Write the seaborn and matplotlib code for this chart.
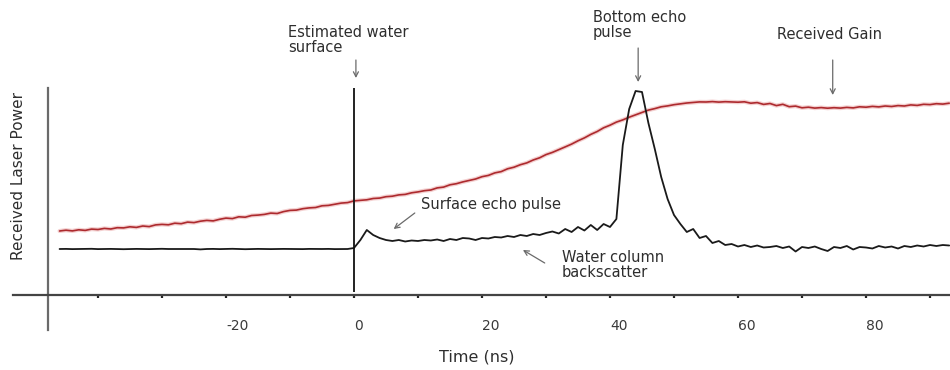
import numpy as np
import pandas as pd
import matplotlib
matplotlib.use("Agg")
import matplotlib.pyplot as plt
import seaborn as sns

# ---------------- data ----------------
time_ns = list(range(-46, 94))  # 1 ns steps

received_gain = [
    64.0, 64.8, 64.1, 65.2, 64.6, 65.9, 65.5, 66.6, 66.0, 67.3,
    67.1, 68.2, 67.6, 69.0, 68.4, 70.1, 70.6, 70.2, 71.8, 71.3,
    72.9, 72.4, 73.8, 74.6, 74.1, 75.7, 76.9, 76.4, 78.2, 77.8,
    79.5, 79.9, 80.6, 81.9, 81.5, 83.4, 84.6, 84.9, 86.3, 87.1,
    87.5, 89.2, 89.6, 90.8, 91.9, 92.4,                       # -46 .. -1
    94.1, 94.6, 95.2, 96.5, 96.9, 98.3, 98.8, 100.1, 100.6, 102.2,
    103.1, 104.3, 105.0, 107.1, 107.9, 110.2, 111.3, 113.1, 114.6, 116.0,
    118.3, 119.6, 122.1, 123.4, 126.2, 127.8, 130.3, 132.1, 135.0, 137.2,
    140.4, 142.6, 145.3, 148.1, 150.9, 154.2, 157.1, 160.6, 163.5, 167.2,
    169.8, 172.9, 175.1, 177.8, 180.2, 182.6, 184.9, 186.4, 188.2, 189.1,
    190.3, 191.2, 192.0, 192.6, 193.1, 193.0, 193.4, 192.9, 193.3, 193.0,
    192.8, 193.2, 191.8, 192.4, 190.6, 191.5, 189.4, 190.7, 188.3, 188.9,
    187.2, 187.8, 186.9, 187.4, 186.8, 187.3, 186.9, 187.6, 187.1, 188.2,
    187.8, 188.6, 188.1, 189.0, 188.5, 189.4, 189.0, 190.1, 189.6, 190.7,
    190.4, 191.3, 190.9, 191.8,                               # 0 .. 93
]

laser_power = [
    46.0, 46.1, 45.9, 46.0, 46.0, 46.2, 45.9, 46.0, 46.1, 46.0,
    45.8, 46.0, 46.1, 46.0, 45.9, 46.0, 46.2, 46.0, 46.0, 45.9,
    46.1, 46.0, 45.6, 46.0, 46.1, 45.9, 46.0, 46.2, 46.0, 45.8,
    46.0, 46.1, 46.0, 45.9, 46.0, 46.1, 46.0, 46.0, 45.9, 46.1,
    46.0, 46.0, 46.1, 45.9, 46.0, 46.0,                       # -46 .. -1
    47.0, 55.0, 65.0, 60.0, 57.0, 55.0, 54.0, 55.0, 53.5, 54.5,
    54.0, 55.0, 54.5, 55.5, 54.0, 56.0, 55.0, 57.0, 56.5, 55.0,
    57.0, 56.5, 58.0, 57.5, 59.0, 58.0, 60.0, 59.0, 61.0, 60.0,
    62.0, 63.5, 61.5, 66.0, 63.0, 68.0, 64.5, 70.0, 65.0, 71.0,
    68.0, 76.0, 150.0, 186.0, 204.0, 203.0, 172.0, 146.0, 118.0, 96.0,
    80.0, 71.0, 63.0, 66.0, 57.0, 59.0, 52.0, 54.0, 50.0, 51.0,
    48.5, 50.0, 48.0, 49.5, 47.5, 48.0, 49.0, 47.0, 48.5, 43.5,
    48.0, 47.0, 48.5, 46.0, 44.0, 48.0, 47.0, 49.0, 45.5, 48.0,
    47.5, 46.5, 49.0, 47.5, 48.5, 46.5, 49.0, 48.0, 49.5, 48.5,
    50.0, 49.0, 50.0, 49.5,                                   # 0 .. 93
]

tick_values = list(range(-40, 100, 10))
tick_labels = ["", "", "-20", "", "0", "", "20", "", "40", "", "60", "", "80", ""]

df = pd.DataFrame({"Time (ns)": time_ns,
                   "gain": received_gain,
                   "power": laser_power})

# ---------------- figure ----------------
sns.set_style("white")
plt.rcParams["font.family"] = ["DejaVu Sans"]
txt_color = "#2e2e2e"

fig = plt.figure(figsize=(9.5, 3.7), dpi=100)
ax = fig.add_axes([0, 0, 1, 1])
ax.set_xlim(-55.31, 93.125)
ax.set_ylim(-75, 295)

# red received-gain curve with soft halo
sns.lineplot(data=df, x="Time (ns)", y="gain", ax=ax, color="#efbcbc",
             lw=3.0, alpha=0.7, estimator=None)
sns.lineplot(data=df, x="Time (ns)", y="gain", ax=ax, color="#ad2a2e",
             lw=1.2, estimator=None)
# black laser power waveform
sns.lineplot(data=df, x="Time (ns)", y="power", ax=ax, color="#1a1a1a",
             lw=1.3, estimator=None)

# estimated water surface line
ax.vlines(0, 3, 207, color="#111111", lw=1.3)

# axes styling
for s in ["top", "right"]:
    ax.spines[s].set_visible(False)
ax.spines["bottom"].set_position(("data", 0))
ax.spines["bottom"].set_bounds(-53.3, 93.2)
ax.spines["bottom"].set_color("#444444")
ax.spines["bottom"].set_linewidth(1.6)
ax.spines["left"].set_position(("data", -47.8))
ax.spines["left"].set_bounds(-35, 207)
ax.spines["left"].set_color("#6a6a6a")
ax.spines["left"].set_linewidth(1.6)

ax.set_yticks([])
ax.set_xticks(tick_values)
ax.set_xticklabels(tick_labels, fontsize=10, color="#3a3a3a")
for lab in ax.get_xticklabels():
    lab.set_ha("left")
ax.tick_params(axis="x", bottom=True, direction="out", length=2.5, width=1.6,
               color="#222222", pad=15)

ax.set_xlabel("Time (ns)", fontsize=11.5, color=txt_color, va="top")
ax.xaxis.set_label_coords(477 / 950, (370 - 350) / 370)
ax.set_ylabel("Received Laser Power", fontsize=11, color=txt_color, va="center")
ax.yaxis.set_label_coords(19 / 950, (370 - 176) / 370)

arrow_kw = dict(arrowstyle="->,head_length=0.35,head_width=0.18",
                color="#6a6a6a", lw=0.9, shrinkA=0, shrinkB=0)

ax.text(-10.3, 270, "Estimated water\nsurface", fontsize=10.5,
        color=txt_color, ha="left", va="top", linespacing=1.0)
ax.annotate("", xy=(0.3, 217), xytext=(0.3, 235), arrowprops=arrow_kw)

ax.text(37.3, 285, "Bottom echo\npulse", fontsize=10.5,
        color=txt_color, ha="left", va="top", linespacing=1.0)
ax.annotate("", xy=(44.4, 213), xytext=(44.4, 247), arrowprops=arrow_kw)

ax.text(66.1, 268, "Received Gain", fontsize=10.5,
        color=txt_color, ha="left", va="top")
ax.annotate("", xy=(74.8, 200), xytext=(74.8, 235), arrowprops=arrow_kw)

ax.text(10.5, 90, "Surface echo pulse", fontsize=10.5,
        color=txt_color, ha="left", va="center")
ax.annotate("", xy=(6.2, 66), xytext=(9.5, 82), arrowprops=arrow_kw)

ax.text(32.5, 45, "Water column\nbackscatter", fontsize=10.5,
        color=txt_color, ha="left", va="top", linespacing=1.0)
ax.annotate("", xy=(26.4, 45), xytext=(29.8, 32), arrowprops=arrow_kw)

fig.savefig("out.png", dpi=100)
